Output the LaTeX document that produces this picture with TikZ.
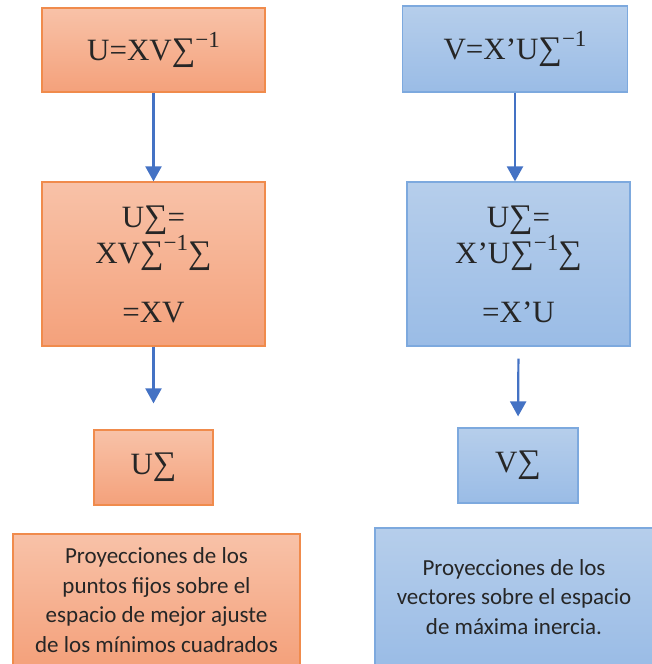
\documentclass[tikz,border=0pt]{standalone}
\usepackage{fontspec}
\setmainfont{Liberation Serif}
\newfontfamily\calib{Carlito}
\usetikzlibrary{arrows.meta}
\definecolor{otop}{HTML}{F8C2A8}
\definecolor{obot}{HTML}{F4A17B}
\definecolor{oline}{HTML}{F08B4C}
\definecolor{btop}{HTML}{B6CEEB}
\definecolor{bbot}{HTML}{9ABCE6}
\definecolor{bline}{HTML}{7DA9DE}
\definecolor{arr}{HTML}{4472C4}
\newcommand{\sm}{{\fontsize{33}{33}\selectfont ∑}}
\newcommand{\inv}{\raisebox{0.42em}{\fontsize{23}{23}\selectfont −1}}
\tikzset{
  obox/.style={draw=oline, line width=1.2pt, top color=otop, bottom color=obot, inner sep=0pt, align=center},
  bbox/.style={draw=bline, line width=1.2pt, top color=btop, bottom color=bbot, inner sep=0pt, align=center},
  mtext/.style={font=\fontsize{31}{36}\selectfont, text=black!85},
  ptext/.style={font=\calib\fontsize{23}{29.5}\selectfont, text=black!85},
  arrow/.style={draw=arr, line width=2.2pt, -{Triangle[length=15pt,width=16pt]}}
}
\begin{document}
\begin{tikzpicture}[x=1pt,y=-1pt]
\useasboundingbox (0,0) rectangle (651,664);
\node[obox, mtext, minimum width=223pt, minimum height=84pt] (o1) at (153.5,50) {U=XV\sm\inv};
\node[bbox, mtext, minimum width=225pt, minimum height=86pt] (b1) at (515,49) {V=X’U\sm\inv};
\node[obox, mtext, minimum width=223pt, minimum height=164pt] (o2) at (153.5,264) {U\sm=\\XV\sm\inv\sm\\[23pt]=XV};
\node[bbox, mtext, minimum width=223pt, minimum height=164pt] (b2) at (518.5,264) {U\sm=\\X’U\sm\inv\sm\\[23pt]=X’U};
\node[obox, mtext, minimum width=119pt, minimum height=75pt] (o3) at (153.5,467.5) {U\sm};
\node[bbox, mtext, minimum width=120pt, minimum height=75pt] (b3) at (518,465.5) {V\sm};
\node[obox, ptext, minimum width=287pt, minimum height=132pt] (o4) at (156.5,600) {Proyecciones de los\\puntos fijos sobre el\\espacio de mejor ajuste\\de los mínimos cuadrados};
\node[bbox, ptext, minimum width=278pt, minimum height=138pt] (b4) at (514,597) {Proyecciones de los\\vectores sobre el espacio\\de máxima inercia.};
\draw[arrow] (o1.south) -- (o2.north);
\draw[arrow] (b1.south) -- (b1.south |- b2.north);
\draw[arrow, shorten >=26pt] (o2.south) -- (o3.north);
\draw[arrow, shorten <=12pt, shorten >=11pt] (b2.south) -- (b3.north);
\end{tikzpicture}
\end{document}
